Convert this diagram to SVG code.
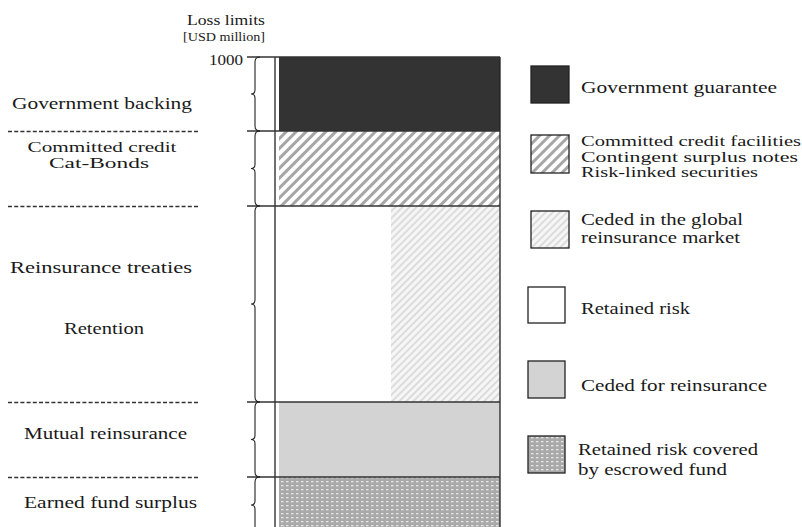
<svg xmlns="http://www.w3.org/2000/svg" width="802" height="527" viewBox="0 0 802 527" font-family="Liberation Serif, DejaVu Serif, Times New Roman, serif">
  <style>
    text { font-family: "Liberation Serif", "DejaVu Serif", "Noto Serif", "Times New Roman", Times, serif; fill: #1a1a1a; }
    .lbl { font-size: 17px; text-anchor: middle; }
    .leg { font-size: 17px; }
    .tight { font-size: 15px; }
    .axis { stroke: #222; stroke-width: 1.3; fill: none; }
    .sep { stroke: #333; stroke-width: 1.3; fill: none; }
    .dash { stroke: #333; stroke-width: 1.3; stroke-dasharray: 4 2.2; fill: none; }
    .brace { stroke: #222; stroke-width: 1.1; fill: none; }
    .box { stroke: #222; stroke-width: 1.3; }
  </style>
  <defs>
    <pattern id="hatchBold" width="7" height="7" patternUnits="userSpaceOnUse" patternTransform="rotate(45)">
      <rect width="7" height="7" fill="#ffffff"/>
      <rect x="0" y="0" width="3" height="7" fill="#a6a6a6"/>
    </pattern>
    <pattern id="hatchLight" width="5" height="5" patternUnits="userSpaceOnUse" patternTransform="rotate(45)">
      <rect width="5" height="5" fill="#f6f6f6"/>
      <rect x="0" y="0" width="2" height="5" fill="#dcdcdc"/>
    </pattern>
    <pattern id="dots" width="5" height="4" patternUnits="userSpaceOnUse">
      <rect width="5" height="4" fill="#a9a9a9"/>
      <rect x="1" y="1" width="2.5" height="1.3" fill="#e6e6e6"/>
    </pattern>
  </defs>

  <!-- axis header -->
  <g id="axis-title">
    <text x="187" y="25" font-size="15" textLength="78" lengthAdjust="spacingAndGlyphs">Loss limits</text>
    <text x="183" y="41" font-size="12" textLength="82" lengthAdjust="spacingAndGlyphs">[USD million]</text>
    <text x="209" y="65" font-size="14" textLength="34" lengthAdjust="spacingAndGlyphs">1000</text>
  </g>

  <!-- stacked layers of the loss bar -->
  <g id="layer-government">
    <rect x="279" y="57" width="221" height="74" fill="#333333"/>
  </g>
  <g id="layer-committed">
    <rect x="279" y="131" width="221" height="75" fill="url(#hatchBold)"/>
  </g>
  <g id="layer-retention">
    <rect x="279" y="206" width="221" height="196" fill="#ffffff"/>
    <rect x="391" y="206" width="109" height="196" fill="url(#hatchLight)"/>
  </g>
  <g id="layer-mutual">
    <rect x="279" y="402" width="221" height="75" fill="#d3d3d3"/>
  </g>
  <g id="layer-fund">
    <rect x="279" y="477" width="221" height="50" fill="url(#dots)"/>
  </g>

  <!-- axis, layer boundaries and braces -->
  <g id="connectors">
    <line class="axis" x1="275" y1="57" x2="275" y2="527"/>
    <line class="axis" x1="500" y1="57" x2="500" y2="527"/>
    <line class="sep" x1="247" y1="57" x2="500" y2="57"/>
    <line class="sep" x1="247" y1="131" x2="500" y2="131"/>
    <line class="sep" x1="247" y1="206" x2="500" y2="206"/>
    <line class="sep" x1="247" y1="402" x2="500" y2="402"/>
    <line class="sep" x1="247" y1="477" x2="500" y2="477"/>

    <path class="brace" d="M260 57 Q255 57 255 62 L255 90 Q255 94 251 94 Q255 94 255 98 L255 126 Q255 131 260 131"/>
    <path class="brace" d="M260 131 Q255 131 255 136 L255 164.5 Q255 168.5 251 168.5 Q255 168.5 255 172.5 L255 201 Q255 206 260 206"/>
    <path class="brace" d="M260 206 Q255 206 255 211 L255 300 Q255 304 251 304 Q255 304 255 308 L255 397 Q255 402 260 402"/>
    <path class="brace" d="M260 402 Q255 402 255 407 L255 435.5 Q255 439.5 251 439.5 Q255 439.5 255 443.5 L255 472 Q255 477 260 477"/>
    <path class="brace" d="M260 477 Q255 477 255 482 L255 501 Q255 505 251 505 Q255 505 255 509 L255 528"/>

    <line class="dash" x1="8" y1="131.5" x2="200" y2="131.5"/>
    <line class="dash" x1="8" y1="206.5" x2="200" y2="206.5"/>
    <line class="dash" x1="8" y1="402.5" x2="200" y2="402.5"/>
    <line class="dash" x1="8" y1="477.5" x2="200" y2="477.5"/>
  </g>

  <!-- layer names -->
  <g id="label-government"><text class="lbl" x="102" y="109" textLength="180" lengthAdjust="spacingAndGlyphs">Government backing</text></g>
  <g id="label-committed">
    <text class="lbl tight" x="102" y="152" textLength="149" lengthAdjust="spacingAndGlyphs">Committed credit</text>
    <text class="lbl tight" x="99" y="168" textLength="100" lengthAdjust="spacingAndGlyphs">Cat-Bonds</text>
  </g>
  <g id="label-treaties"><text class="lbl" x="101" y="273" textLength="182" lengthAdjust="spacingAndGlyphs">Reinsurance treaties</text></g>
  <g id="label-retention"><text class="lbl" x="104" y="334" textLength="80" lengthAdjust="spacingAndGlyphs">Retention</text></g>
  <g id="label-mutual"><text class="lbl" x="105.5" y="439" textLength="163" lengthAdjust="spacingAndGlyphs">Mutual reinsurance</text></g>
  <g id="label-fund"><text class="lbl" x="110.5" y="508" textLength="173" lengthAdjust="spacingAndGlyphs">Earned fund surplus</text></g>

  <!-- legend -->
  <g id="legend-government">
    <rect class="box" x="531" y="66" width="38" height="37" fill="#333333"/>
    <text class="leg" x="581" y="93" textLength="196" lengthAdjust="spacingAndGlyphs">Government guarantee</text>
  </g>
  <g id="legend-committed">
    <rect class="box" x="531" y="135" width="38" height="38" fill="url(#hatchBold)"/>
    <text class="leg tight" x="581" y="146" textLength="220" lengthAdjust="spacingAndGlyphs">Committed credit facilities</text>
    <text class="leg tight" x="581" y="162" textLength="217" lengthAdjust="spacingAndGlyphs">Contingent surplus notes</text>
    <text class="leg tight" x="581" y="177" textLength="177" lengthAdjust="spacingAndGlyphs">Risk-linked securities</text>
  </g>
  <g id="legend-ceded-global">
    <rect class="box" x="531" y="211" width="38" height="37" fill="url(#hatchLight)"/>
    <text class="leg" x="581" y="225" textLength="162" lengthAdjust="spacingAndGlyphs">Ceded in the global</text>
    <text class="leg" x="581" y="243" textLength="159" lengthAdjust="spacingAndGlyphs">reinsurance market</text>
  </g>
  <g id="legend-retained">
    <rect class="box" x="528" y="287" width="37" height="36" fill="#ffffff"/>
    <text class="leg" x="581" y="314" textLength="109" lengthAdjust="spacingAndGlyphs">Retained risk</text>
  </g>
  <g id="legend-ceded">
    <rect class="box" x="528" y="361" width="37" height="37" fill="#d3d3d3"/>
    <text class="leg" x="581" y="391" textLength="186" lengthAdjust="spacingAndGlyphs">Ceded for reinsurance</text>
  </g>
  <g id="legend-escrow">
    <rect class="box" x="528" y="436" width="37" height="37" fill="url(#dots)"/>
    <text class="leg" x="578" y="455" textLength="180" lengthAdjust="spacingAndGlyphs">Retained risk covered</text>
    <text class="leg" x="578" y="475" textLength="149" lengthAdjust="spacingAndGlyphs">by escrowed fund</text>
  </g>
</svg>
